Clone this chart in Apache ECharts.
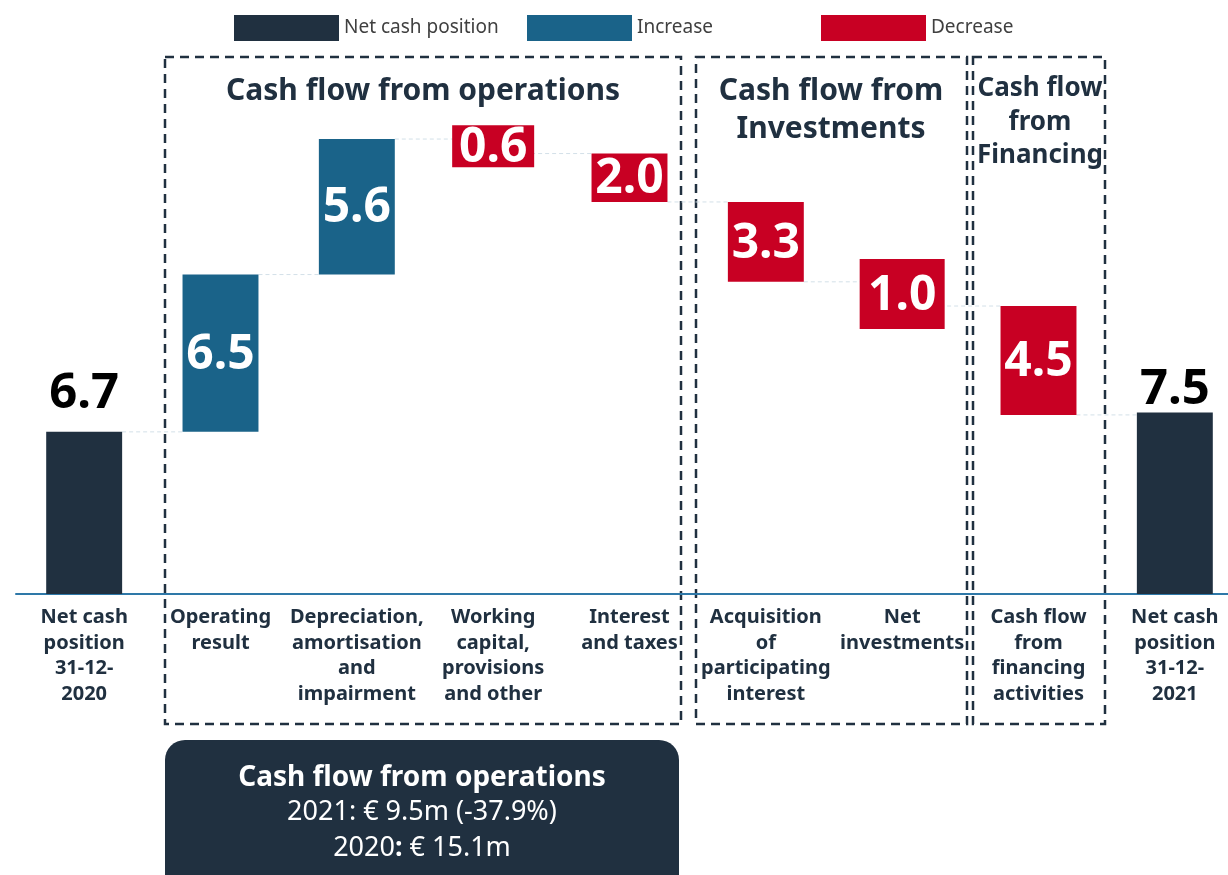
<!DOCTYPE html>
<html>
<head>
<meta charset="utf-8">
<script src="https://cdn.jsdelivr.net/npm/echarts@6/dist/echarts.min.js"></script>
<style>
html,body{margin:0;padding:0;background:#fff;}
#chart{width:1228px;height:875px;}
</style>
</head>
<body>
<div id="chart"></div>
<script>
// ---- data ----
const categories = [
  'Net cash\nposition\n31-12-\n2020',
  'Operating\nresult',
  'Depreciation,\namortisation\nand\nimpairment',
  'Working\ncapital,\nprovisions\nand other',
  'Interest\nand taxes',
  'Acquisition\nof\nparticipating\ninterest',
  'Net\ninvestments',
  'Cash flow\nfrom\nfinancing\nactivities',
  'Net cash\nposition\n31-12-\n2021'
];
const values = [6.7, 6.5, 5.6, -0.6, -2.0, -3.3, -1.0, -4.5, 7.5];
const kinds = ['total', 'increase', 'increase', 'decrease', 'decrease', 'decrease', 'decrease', 'decrease', 'total'];
const valueLabels = ['6.7', '6.5', '5.6', '0.6', '2.0', '3.3', '1.0', '4.5', '7.5'];
const legendNames = ['Net cash position', 'Increase', 'Decrease'];
const groupTitles = ['Cash flow from operations', 'Cash flow from\nInvestments', 'Cash flow\nfrom\nFinancing'];
const summaryTitle = 'Cash flow from operations';
const summaryLines = ['2021: € 9.5m (-37.9%)', '2020{b|:} € 15.1m'];

// ---- style ----
const COLORS = { total: '#203040', increase: '#1A6389', decrease: '#C80023' };
const FONT = '"Noto Sans", "Open Sans", sans-serif';
const TEXT_DARK = '#203040';
const BAR_RATIO = 0.557;
// label boxes drawn larger than very short bars (min box size in px: [width, height])
const boxOverride = { 3: [82, 42], 6: [85, 70] };
// gap (px) between total-bar top and its label box bottom
const totalLabelGap = { 0: 13, 8: -2 };
const legendLefts = [229, 522, 816];

// ---- compute waterfall ranges ----
const lows = [], highs = [], levels = [];
let running = 0;
values.forEach((v, i) => {
  if (kinds[i] === 'total') {
    lows.push(0); highs.push(v); running = v;
  } else {
    const next = running + v;
    lows.push(Math.min(running, next)); highs.push(Math.max(running, next));
    running = next;
  }
  levels.push(running);
});

function seriesData(kind) {
  const out = [];
  values.forEach((v, i) => { if (kinds[i] === kind) out.push([i, lows[i], highs[i]]); });
  return out;
}

function renderBar(params, api) {
  const idx = api.value(0);
  const kind = kinds[idx];
  const pTop = api.coord([idx, api.value(2)]);
  const pBot = api.coord([idx, api.value(1)]);
  const band = api.size([1, 0])[0];
  const bw = band * BAR_RATIO;
  const top = pTop[1], h = pBot[1] - pTop[1];
  const cx = pTop[0];
  const children = [];
  const color = COLORS[kind];
  children.push({ type: 'rect', shape: { x: cx - bw / 2, y: top, width: bw, height: h }, style: { fill: color } });
  if (kind === 'total') {
    const gap = totalLabelGap[idx] !== undefined ? totalLabelGap[idx] : 13;
    children.push({ type: 'text', style: { text: valueLabels[idx], x: cx, y: top - gap, align: 'center', verticalAlign: 'bottom',
      fill: '#000', fontSize: 49, fontWeight: 'bold', fontFamily: FONT } });
  } else {
    const ov = boxOverride[idx];
    if (ov) {
      const cy = top + h / 2;
      const w2 = Math.max(bw, ov[0]), h2 = Math.max(h, ov[1]);
      children.push({ type: 'rect', shape: { x: cx - w2 / 2, y: cy - h2 / 2, width: w2, height: h2 }, style: { fill: color } });
    }
    children.push({ type: 'text', style: { text: valueLabels[idx], x: cx, y: top + h / 2 + 2, align: 'center', verticalAlign: 'middle',
      fill: '#fff', fontSize: 48, fontWeight: 'bold', fontFamily: FONT } });
  }
  return { type: 'group', children };
}

function renderConnector(params, api) {
  const idx = api.value(0);
  const p = api.coord([idx, api.value(1)]);
  const band = api.size([1, 0])[0];
  const bw = band * BAR_RATIO;
  return { type: 'line', shape: { x1: p[0] + bw / 2, y1: p[1], x2: p[0] + band - bw / 2, y2: p[1] },
    style: { stroke: '#d3e0e8', lineWidth: 1, lineDash: [4, 3] } };
}

const connectorData = levels.slice(0, levels.length - 1).map((lv, i) => [i, lv]);

const chart = echarts.init(document.getElementById('chart'), null, { renderer: 'canvas' });

const dashStyle = { stroke: TEXT_DARK, lineWidth: 2.5, lineDash: [9, 6], fill: null };
const titleStyle = { fill: TEXT_DARK, fontSize: 30, fontWeight: 'bold', fontFamily: FONT, align: 'center' };

const legendCommon = {
  top: 10, itemWidth: 105, itemHeight: 26, icon: 'rect', selectedMode: false,
  textStyle: { fontSize: 19, color: '#404040', fontFamily: FONT, padding: [4, 0, 0, 0] }
};

chart.setOption({
  animation: false,
  textStyle: { fontFamily: FONT },
  grid: { left: 16, top: 110, width: 1227, height: 484, containLabel: false, outerBoundsMode: 'none' },
  legend: legendNames.map((n, i) => Object.assign({}, legendCommon, { data: [n], left: legendLefts[i] })),
  xAxis: {
    type: 'category',
    data: categories,
    axisLine: { lineStyle: { color: '#2E78A8', width: 2 } },
    axisTick: { show: false },
    axisLabel: { interval: 0, fontSize: 20, fontWeight: 'bold', color: TEXT_DARK, lineHeight: 25.5, margin: 11, fontFamily: FONT }
  },
  yAxis: { type: 'value', min: 0, max: 20, show: false },
  series: [
    { name: 'connectors', type: 'custom', renderItem: renderConnector, data: connectorData, z: 1, silent: true },
    { name: legendNames[0], type: 'custom', renderItem: renderBar, data: seriesData('total'), itemStyle: { color: COLORS.total }, z: 2 },
    { name: legendNames[1], type: 'custom', renderItem: renderBar, data: seriesData('increase'), itemStyle: { color: COLORS.increase }, z: 2 },
    { name: legendNames[2], type: 'custom', renderItem: renderBar, data: seriesData('decrease'), itemStyle: { color: COLORS.decrease }, z: 2 }
  ],
  graphic: [
    { type: 'rect', shape: { x: 165, y: 57, width: 516, height: 667 }, style: dashStyle, z: 0 },
    { type: 'rect', shape: { x: 696, y: 57, width: 271, height: 667 }, style: dashStyle, z: 0 },
    { type: 'rect', shape: { x: 973, y: 57, width: 132, height: 667 }, style: dashStyle, z: 0 },
    { type: 'text', x: 423, y: 76, style: Object.assign({}, titleStyle, { text: groupTitles[0] }) },
    { type: 'text', x: 831, y: 72, style: Object.assign({}, titleStyle, { text: groupTitles[1], lineHeight: 38 }) },
    { type: 'text', x: 1040, y: 72, style: Object.assign({}, titleStyle, { text: groupTitles[2], fontSize: 26, lineHeight: 33.5 }) },
    { type: 'rect', shape: { x: 165, y: 740, width: 514, height: 160, r: 20 }, style: { fill: '#203040' } },
    { type: 'text', x: 422, y: 764, style: { text: summaryTitle, fill: '#fff', fontSize: 28, fontWeight: 'bold', fontFamily: FONT, align: 'center' } },
    { type: 'text', x: 422, y: 794, style: { text: summaryLines.join('\n'), fill: '#fff', fontSize: 27, lineHeight: 36, fontFamily: FONT, align: 'center',
      rich: { b: { fontWeight: 'bold', fontSize: 27, fill: '#fff', fontFamily: FONT } } } }
  ]
});
</script>
</body>
</html>
